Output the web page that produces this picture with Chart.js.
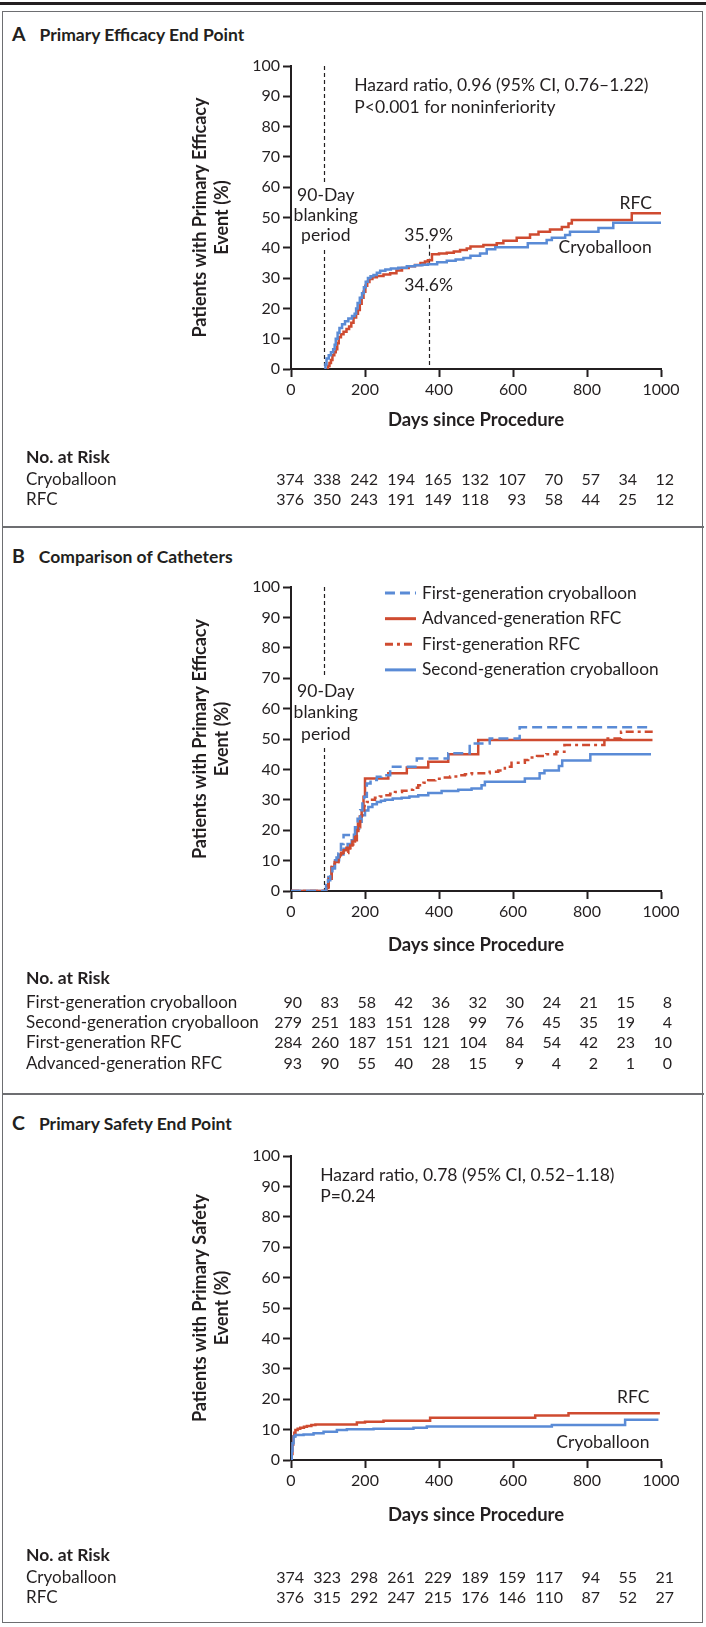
<!DOCTYPE html>
<html>
<head>
<meta charset="utf-8">
<script src="https://cdn.jsdelivr.net/npm/chart.js@4.4.1/dist/chart.umd.min.js"></script>
<style>
  html, body { margin: 0; padding: 0; background: #fff; }
  body { width: 706px; height: 1627px; position: relative; overflow: hidden; font-family: Lato, "Open Sans", sans-serif; color: #231f20; }
  .topbar { position: absolute; left: 0; top: 2px; width: 706px; height: 3px; background: #231f20; }
  .frame { position: absolute; left: 2px; top: 11px; width: 699px; height: 1610px; border: 1.5px solid #6d6e71; }
  .sep { position: absolute; left: 2px; width: 702px; height: 2px; background: #6d6e71; }
  .ptitle { position: absolute; left: 12px; font-weight: bold; font-size: 17.5px; line-height: 20px; white-space: nowrap; }
  .ptitle .lt { font-size: 19.5px; margin-right: 14px; }
  canvas { position: absolute; left: 0; }
</style>
</head>
<body>
<div class="topbar"></div>
<div class="frame"></div>
<div class="sep" style="top:526px"></div>
<div class="sep" style="top:1093px"></div>
<div class="ptitle" style="top:24px"><span class="lt">A</span>Primary Efficacy End Point</div>
<div class="ptitle" style="top:546px"><span class="lt">B</span>Comparison of Catheters</div>
<div class="ptitle" style="top:1113px"><span class="lt">C</span>Primary Safety End Point</div>
<canvas id="cA" width="706" height="480" style="top:45px"></canvas>
<canvas id="cB" width="706" height="526" style="top:566px"></canvas>
<canvas id="cC" width="706" height="486" style="top:1135px"></canvas>
<script>
// ---------------- DATA ----------------
const xTicks = [0, 200, 400, 600, 800, 1000];
const riskDays = [0, 100, 200, 300, 400, 500, 600, 700, 800, 900, 1000];

// Panel A: primary efficacy end point
const A_cryo_days = [90,93,96,102,108,114,118,121,126,131,138,146,155,165,172,176,180,186,192,197,202,208,215,223,232,241,255,270,290,313,335,355,370,395,421,445,466,485,511,529,552,633,640,691,705,741,754,831,871,1000];
const A_cryo_pct  = [0,1.5,3.5,4.5,5.5,6.5,8,10,12,13.5,14.8,15.8,16.7,17.5,18.2,20,21.8,23.5,25,27,28.8,30,30.6,31,31.8,32.4,32.8,33.2,33.4,33.9,34.2,34.4,34.6,35.2,35.7,36.1,36.6,37.4,38.1,39.5,40.2,40.2,41.5,42.6,43.3,44.2,45.3,46.5,48.3,48.3];
const A_rfc_days  = [97,100,104,108,112,117,121,125,129,135,142,150,157,163,169,176,181,186,191,196,201,206,212,220,232,250,268,285,300,318,335,350,362,370,381,400,421,440,457,475,485,520,556,574,610,646,669,700,732,750,759,921,1000];
const A_rfc_pct   = [0,1,2,3,4.5,5.5,6.5,8.5,10.5,11.5,12.3,13.2,14,15.3,17,18.2,19.5,21.5,23.5,25.5,27.5,28.7,29.7,30.3,30.7,31.2,31.6,32.5,33.3,33.9,34.3,35,35.5,35.9,37.9,38.1,38.4,38.8,39.3,39.8,40.4,40.9,41.5,42.3,43.3,44.4,45.3,46,46.9,48,49.2,51.4,51.4];
const A_risk_cryo = [374,338,242,194,165,132,107,70,57,34,12];
const A_risk_rfc  = [376,350,243,191,149,118,93,58,44,25,12];

// Panel B: comparison of catheters
const B_fgCryo_days = [0,90,95,100,106,112,118,123,128,135,142,173,180,187,193,198,205,215,232,245,268,340,425,483,537,618,973];
const B_fgCryo_pct  = [0,0,1.5,3.5,5.7,7.5,9.5,11,12.3,15.5,18.4,21,23.8,26.6,28.8,31,35.4,36.5,37.6,38.1,40.9,43.6,45.3,48.5,50.2,53.9,53.9];
const B_agRfc_days  = [0,90,96,102,110,118,128,135,142,150,160,166,173,177,181,186,191,196,200,263,313,371,425,506,977];
const B_agRfc_pct   = [0,0,1.3,4,7.9,9.5,11.8,12.6,13.4,14.2,15,16.3,17.8,20,22.2,24.5,26.6,31,37,38.7,40.6,42.5,45,49.7,49.7];
const B_fgRfc_days  = [0,93,97,101,106,110,118,128,140,155,165,173,178,182,187,192,198,205,215,227,240,254,268,281,300,317,330,344,358,371,390,407,430,452,470,488,537,560,578,596,632,641,665,690,717,739,847,892,982];
const B_fgRfc_pct   = [0,0,1,2.4,5,7.9,9.5,11.2,12.5,14,15.3,16.7,18.8,21,23.8,26.6,28,29.3,30,30.7,31.1,31.5,32,32.6,33,33.3,34,34.8,35.6,36.4,36.9,37.3,37.7,38.1,38.4,38.7,39.2,39.6,40.9,42.2,43.1,43.9,44.4,45,45.8,48,50.2,52.4,52.4];
const B_sgCryo_days = [0,90,95,101,110,119,130,142,153,164,170,177,184,191,200,209,220,232,243,254,275,299,320,344,371,407,452,488,515,524,632,672,685,724,733,809,973];
const B_sgCryo_pct  = [0,0,2,4.6,7.5,10.1,12,13.9,15.5,16.7,18.5,20.5,22.8,24.9,26.5,27.6,28.5,29.3,29.7,30,30.4,30.7,31.1,31.5,32.2,32.9,33.3,33.7,34.8,35.9,37,38.7,39.6,41.1,42.9,45,45];
const B_risk_fgCryo = [90,83,58,42,36,32,30,24,21,15,8];
const B_risk_sgCryo = [279,251,183,151,128,99,76,45,35,19,4];
const B_risk_fgRfc  = [284,260,187,151,121,104,84,54,42,23,10];
const B_risk_agRfc  = [93,90,55,40,28,15,9,4,2,1,0];

// Panel C: primary safety end point
const C_rfc_days  = [0,2,4,6,9,12,18,25,35,43,55,66,178,200,250,376,660,750,997];
const C_rfc_pct   = [0,2,5,7.7,9,9.9,10.3,10.6,10.9,11.2,11.5,11.7,12.3,12.6,12.9,13.9,14.6,15.4,15.4];
const C_cryo_days = [0,2,4,7,12,34,61,88,124,151,223,331,367,705,903,993];
const C_cryo_pct  = [0,3,5.5,7.7,8.2,8.4,8.8,9.3,9.9,10.1,10.3,10.6,11,11.5,13.2,13.2];
const C_risk_cryo = [374,323,298,261,229,189,159,117,94,55,21];
const C_risk_rfc  = [376,315,292,247,215,176,146,110,87,52,27];

// ---------------- STYLE ----------------
const RED = '#cf4b30';
const BLUE = '#5a8bd6';
const INK = '#231f20';
const FONT = 'Lato, "Open Sans", sans-serif';

function pts(days, pct) { return days.map((d, i) => ({ x: d, y: pct[i] })); }
function ds(label, days, pct, color, dash) {
  return { label, data: pts(days, pct), borderColor: color, backgroundColor: color,
    borderWidth: 2.5, borderDash: dash || [], stepped: 'before', pointRadius: 0, fill: false,
    borderCapStyle: 'butt', borderJoinStyle: 'miter' };
}

const annotPlugin = {
  id: 'annot',
  beforeDatasetsDraw(chart, args, opts) {
    const { ctx, scales: { x, y } } = chart;
    ctx.save();
    (opts.vlines || []).forEach(v => {
      ctx.beginPath();
      ctx.setLineDash([4, 3]);
      ctx.lineWidth = 1.2;
      ctx.strokeStyle = INK;
      const px = Math.round(x.getPixelForValue(v.x)) + 0.5;
      v.segs.forEach(([a, b]) => { ctx.moveTo(px, y.getPixelForValue(a)); ctx.lineTo(px, y.getPixelForValue(b)); });
      ctx.stroke();
    });
    ctx.restore();
  },
  afterDraw(chart, args, opts) {
    const { ctx, scales: { x, y } } = chart;
    ctx.save();
    ctx.fillStyle = INK;
    ctx.textBaseline = 'middle';
    (opts.texts || []).forEach(t => {
      ctx.font = (t.bold ? 'bold ' : '') + (t.size || 17.5) + 'px ' + FONT;
      ctx.textAlign = t.align || 'center';
      ctx.fillText(t.text, x.getPixelForValue(t.x), y.getPixelForValue(t.y));
    });
    if (opts.legend) {
      const L = opts.legend;
      chart.data.datasets.forEach((d, i) => {
        const yy = y.getPixelForValue(L.y0) + i * L.dy;
        const x0 = x.getPixelForValue(L.x0);
        ctx.beginPath();
        ctx.setLineDash(d.borderDash || []);
        ctx.lineWidth = 3;
        ctx.strokeStyle = d.borderColor;
        ctx.moveTo(x0, yy); ctx.lineTo(x0 + L.len, yy);
        ctx.stroke();
        ctx.setLineDash([]);
        ctx.font = '17.3px ' + FONT;
        ctx.textAlign = 'left';
        ctx.fillStyle = INK;
        ctx.fillText(d.label, x0 + L.len + 6, yy);
      });
    }
    if (opts.risk) {
      const R = opts.risk;
      ctx.textAlign = 'left';
      ctx.font = 'bold 17.5px ' + FONT;
      ctx.fillText('No. at Risk', 26, R.headerY);
      R.rows.forEach(r => {
        ctx.font = '17px ' + FONT;
        ctx.textAlign = 'left';
        ctx.fillText(r.label, 26, r.y);
        ctx.font = '16px ' + FONT;
        ctx.textAlign = 'right';
        r.values.forEach((v, i) => {
          ctx.fillText(String(v), x.getPixelForValue(riskDays[i]) + R.offset, r.y);
        });
      });
    }
    ctx.restore();
  }
};

function makeChart(id, datasets, cfg) {
  const canvas = document.getElementById(id);
  const H = canvas.height;
  return new Chart(canvas, {
    type: 'line',
    data: { datasets },
    plugins: [annotPlugin],
    options: {
      responsive: false, animation: false, devicePixelRatio: 1,
      layout: { padding: { left: 0, right: 45, top: cfg.plotTop, bottom: 0 } },
      plugins: { legend: { display: false }, tooltip: { enabled: false }, annot: cfg.annot },
      scales: {
        x: {
          type: 'linear', min: 0, max: 1000,
          afterBuildTicks: s => { s.ticks = xTicks.map(v => ({ value: v })); },
          afterFit: s => { s.height = H - cfg.plotBottom; s.paddingLeft = 0; s.paddingRight = 0; },
          border: { display: true, color: INK, width: 2 },
          grid: { display: true, drawOnChartArea: false, drawTicks: true, tickLength: 8, tickWidth: 2, tickColor: INK },
          ticks: { color: INK, font: { family: FONT, size: 16 }, padding: 3, maxRotation: 0, callback: v => String(v) },
          title: { display: true, text: 'Days since Procedure', color: INK,
            font: { family: FONT, size: 18.5, weight: 'bold', lineHeight: 1.2 },
            padding: { top: 0, bottom: cfg.xTitlePad } }
        },
        y: {
          min: 0, max: 100,
          ticks: { stepSize: 10, color: INK, font: { family: FONT, size: 16 }, padding: 3, callback: v => String(v) },
          afterFit: s => { s.width = 291; s.paddingTop = 0; s.paddingBottom = 0; },
          border: { display: true, color: INK, width: 2 },
          grid: { display: true, drawOnChartArea: false, drawTicks: true, tickLength: 8, tickWidth: 2, tickColor: INK },
          title: { display: true, text: cfg.yTitle, color: INK,
            font: { family: FONT, size: 18, weight: 'bold', lineHeight: 1.222 },
            padding: { top: 189, bottom: 0 } }
        }
      }
    }
  });
}

// Panel A
makeChart('cA', [
  ds('Cryoballoon', A_cryo_days, A_cryo_pct, BLUE),
  ds('RFC', A_rfc_days, A_rfc_pct, RED)
], {
  plotTop: 21, plotBottom: 324, xTitlePad: 94,
  yTitle: ['Patients with Primary Efficacy', 'Event (%)'],
  annot: {
    vlines: [ { x: 90, segs: [[100, 61.3], [39.3, 0]] }, { x: 372, segs: [[41, 35], [23.4, 0]] } ],
    texts: [
      { text: 'Hazard ratio, 0.96 (95% CI, 0.76–1.22)', x: 171, y: 93.6, align: 'left' },
      { text: 'P<0.001 for noninferiority', x: 171, y: 86.4, align: 'left' },
      { text: '90-Day', x: 94, y: 57.4 }, { text: 'blanking', x: 94, y: 50.6 }, { text: 'period', x: 94, y: 44 },
      { text: '35.9%', x: 372, y: 44.2 }, { text: '34.6%', x: 372, y: 27.5 },
      { text: 'RFC', x: 932, y: 54.7 }, { text: 'Cryoballoon', x: 849, y: 40.2 }
    ],
    risk: { headerY: 412, offset: 13, rows: [
      { label: 'Cryoballoon', values: A_risk_cryo, y: 435 },
      { label: 'RFC', values: A_risk_rfc, y: 455 } ] }
  }
});

// Panel B
makeChart('cB', [
  ds('First-generation cryoballoon', B_fgCryo_days, B_fgCryo_pct, BLUE, [10, 5]),
  ds('Advanced-generation RFC', B_agRfc_days, B_agRfc_pct, RED),
  ds('First-generation RFC', B_fgRfc_days, B_fgRfc_pct, RED, [8, 4, 3, 4]),
  ds('Second-generation cryoballoon', B_sgCryo_days, B_sgCryo_pct, BLUE)
], {
  plotTop: 21, plotBottom: 325, xTitlePad: 136,
  yTitle: ['Patients with Primary Efficacy', 'Event (%)'],
  annot: {
    vlines: [ { x: 90, segs: [[100, 70.4], [47, 0]] } ],
    texts: [ { text: '90-Day', x: 94, y: 65.6 }, { text: 'blanking', x: 94, y: 58.7 }, { text: 'period', x: 94, y: 51.6 } ],
    legend: { x0: 254, y0: 98, dy: 25.6, len: 31 },
    risk: { headerY: 412, offset: 11, rows: [
      { label: 'First-generation cryoballoon', values: B_risk_fgCryo, y: 437 },
      { label: 'Second-generation cryoballoon', values: B_risk_sgCryo, y: 457 },
      { label: 'First-generation RFC', values: B_risk_fgRfc, y: 477 },
      { label: 'Advanced-generation RFC', values: B_risk_agRfc, y: 498 } ] }
  }
});

// Panel C
makeChart('cC', [
  ds('Cryoballoon', C_cryo_days, C_cryo_pct, BLUE),
  ds('RFC', C_rfc_days, C_rfc_pct, RED)
], {
  plotTop: 21, plotBottom: 325, xTitlePad: 95,
  yTitle: ['Patients with Primary Safety', 'Event (%)'],
  annot: {
    texts: [
      { text: 'Hazard ratio, 0.78 (95% CI, 0.52–1.18)', x: 79, y: 93.5, align: 'left' },
      { text: 'P=0.24', x: 79, y: 86.6, align: 'left' },
      { text: 'RFC', x: 925, y: 20.5 }, { text: 'Cryoballoon', x: 843, y: 5.8 }
    ],
    risk: { headerY: 420, offset: 13, rows: [
      { label: 'Cryoballoon', values: C_risk_cryo, y: 443 },
      { label: 'RFC', values: C_risk_rfc, y: 463 } ] }
  }
});
</script>
</body>
</html>
